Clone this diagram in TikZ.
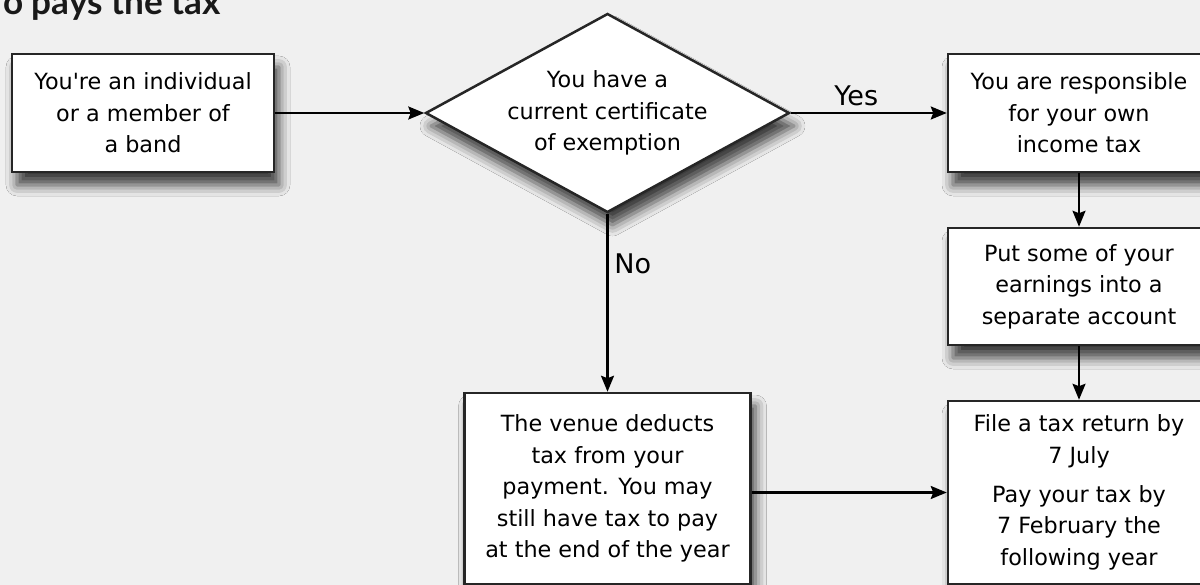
\documentclass[tikz,border=0pt]{standalone}
\usepackage{fontspec}
\setmainfont{DejaVu Sans}
\newfontfamily\titlefont{Lato}
\usetikzlibrary{arrows.meta,positioning}
\usetikzlibrary{shapes.geometric,shadows.blur}
\definecolor{bgcol}{HTML}{F0F0F0}
\tikzset{
  boxshadow/.style={blur shadow={shadow xshift=0.1cm,shadow yshift=-0.26cm,shadow blur radius=0.22cm,shadow opacity=75}},
  stepbox/.style={rectangle,draw=black!85,line width=0.05cm,fill=white,align=center,inner sep=0pt,
    minimum width=5.24cm,font=\fontsize{12.7}{18}\selectfont,boxshadow},
  decision/.style={diamond,draw=black!85,line width=0.05cm,fill=white,align=center,inner sep=0pt,
    shape aspect=1.83,minimum width=7.28cm,minimum height=3.98cm,font=\fontsize{12.7}{18}\selectfont,boxshadow},
  flow/.style={-{Stealth[length=0.32cm,width=0.26cm,inset=0.05cm]},line width=0.045cm},
  answer/.style={font=\fontsize{15.4}{18}\selectfont}
}

\begin{document}
\begin{tikzpicture}
\useasboundingbox (0,0) rectangle (24,-11.7);
\clip (0,0) rectangle (24,-11.7);
\fill[bgcol] (0,0) rectangle (24,-11.7);
% title, cut by the frame
\node (title) [anchor=base west,text=black!90,font=\titlefont\bfseries\fontsize{20}{24}\selectfont] at (-0.06,-0.29) {o pays the tax};
%
\node (you) [stepbox,minimum height=2.36cm] at (2.86,-2.26) {You\textquotesingle re an individual\\or a member of\\a band};
\node (dia) [decision] at (12.15,-2.26) {You have a\\current certificate\\of exemption};
\node (resp) [stepbox,minimum height=2.36cm] at (21.58,-2.26) {You are responsible\\for your own\\income tax};
\node (earn) [stepbox,minimum height=2.34cm] at (21.58,-5.73) {Put some of your\\earnings into a\\separate account};
\node (file) [stepbox,minimum height=3.66cm] at (21.58,-9.85) {File a tax return by\\7 July\\[0.14cm]Pay your tax by\\7 February the\\following year};
\node (venue) [stepbox,minimum width=5.72cm,minimum height=3.82cm] at (12.15,-9.77) {The venue deducts\\tax from your\\payment. You may\\still have tax to pay\\at the end of the year};
%
\path[flow] (you) edge (dia);
\path[flow] (dia) edge node[answer,above,pos=0.42] {Yes} (resp);
\path[flow] (dia.south) edge node[answer,right,pos=0.28] {No} (venue.north);
\path[flow] (resp) edge (earn);
\path[flow] (earn) edge (file);
\path[flow] (venue.east |- file.west) edge (file.west);
\end{tikzpicture}
\end{document}
